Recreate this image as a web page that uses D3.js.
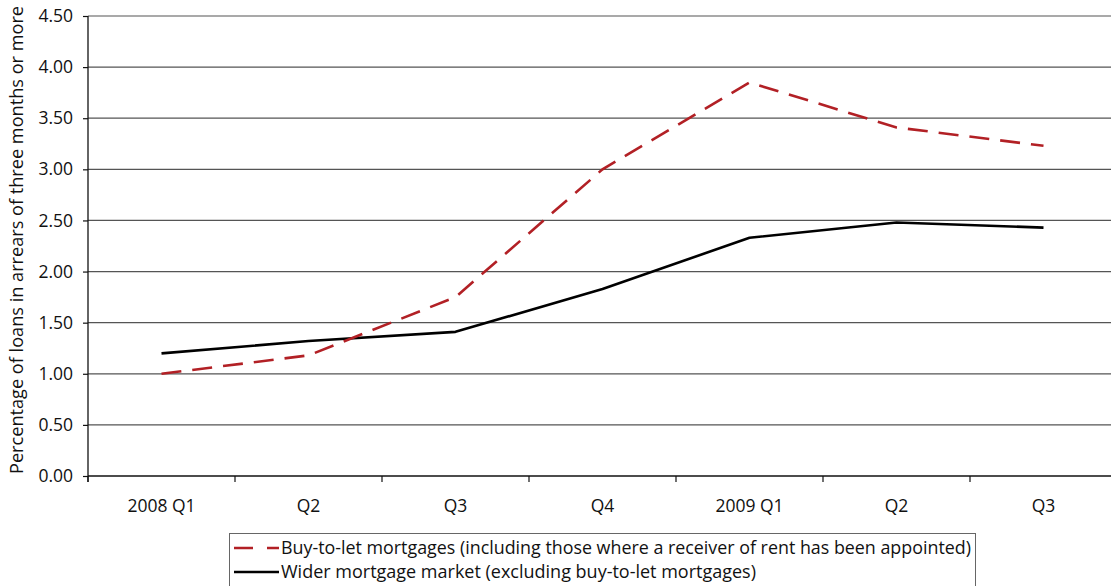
<!DOCTYPE html>
<html>
<head>
<meta charset="utf-8">
<script src="https://cdn.jsdelivr.net/npm/d3@7/dist/d3.min.js"></script>
<style>
  html, body { margin: 0; padding: 0; background: #fff; }
  svg { display: block; }
  text { font-family: "Open Sans", "DejaVu Sans", sans-serif; fill: #111; }
</style>
</head>
<body>
<svg id="chart" width="1112" height="586"></svg>
<script>
// Quarterly categories
const quarters = ["2008 Q1", "Q2", "Q3", "Q4", "2009 Q1", "Q2 ", "Q3 "];
const quarterLabels = ["2008 Q1", "Q2", "Q3", "Q4", "2009 Q1", "Q2", "Q3"];

// Percentage of loans in arrears of three months or more
const buyToLet = [1.00, 1.18, 1.75, 3.00, 3.85, 3.41, 3.23];
const widerMarket = [1.20, 1.32, 1.41, 1.83, 2.33, 2.48, 2.43];

const yTicks = [0, 0.5, 1, 1.5, 2, 2.5, 3, 3.5, 4, 4.5];

const seriesNames = [
  "Buy-to-let mortgages (including those where a receiver of rent has been appointed)",
  "Wider mortgage market (excluding buy-to-let mortgages)"
];

const svg = d3.select("#chart");
const plotLeft = 88, plotTop = 16, plotBottom = 476, gridRight = 1111;

const x = d3.scaleBand().domain(quarters).range([plotLeft, 1117]);
const y = d3.scaleLinear().domain([0, 4.5]).range([plotBottom, plotTop]);

// Horizontal gridlines
svg.append("g")
  .selectAll("line")
  .data(yTicks.filter(d => d > 0))
  .join("line")
  .attr("x1", plotLeft).attr("x2", gridRight)
  .attr("y1", d => y(d)).attr("y2", d => y(d))
  .attr("stroke", "#555").attr("stroke-width", 1.2);

// Y axis
const yAxis = svg.append("g")
  .attr("transform", `translate(${plotLeft},0)`)
  .call(d3.axisLeft(y).tickValues(yTicks).tickFormat(d3.format(".2f")).tickSize(5).tickPadding(10));
yAxis.select(".domain").attr("stroke", "#111").attr("stroke-width", 1.3)
  .attr("d", `M0,${plotTop}V${plotBottom + 6}`);
yAxis.selectAll(".tick line").attr("stroke", "#111").attr("stroke-width", 1.2);
yAxis.selectAll(".tick text").style("font-size", "17.5px").attr("fill", "#111")
  .style("font-family", '"Open Sans", sans-serif');

// X axis with ticks at category boundaries
const xg = svg.append("g");
xg.append("line")
  .attr("x1", plotLeft).attr("x2", gridRight)
  .attr("y1", plotBottom).attr("y2", plotBottom)
  .attr("stroke", "#111").attr("stroke-width", 1.3);
xg.selectAll("line.b")
  .data(quarters)
  .join("line")
  .attr("class", "b")
  .attr("x1", d => x(d)).attr("x2", d => x(d))
  .attr("y1", plotBottom).attr("y2", plotBottom + 6)
  .attr("stroke", "#111").attr("stroke-width", 1.2);
xg.selectAll("text")
  .data(quarters)
  .join("text")
  .attr("x", d => x(d) + x.bandwidth() / 2)
  .attr("y", plotBottom + 36)
  .attr("text-anchor", "middle")
  .style("font-size", "17.5px")
  .text((d, i) => quarterLabels[i]);

// Y axis title
svg.append("text")
  .attr("transform", `translate(23,${(plotTop + plotBottom) / 2 - 6}) rotate(-90)`)
  .attr("text-anchor", "middle")
  .style("font-size", "18px")
  .attr("textLength", 468)
  .attr("lengthAdjust", "spacingAndGlyphs")
  .text("Percentage of loans in arrears of three months or more");

// Series lines
const line = d3.line()
  .x((d, i) => x(quarters[i]) + x.bandwidth() / 2)
  .y(d => y(d));

svg.append("path")
  .datum(widerMarket)
  .attr("d", line)
  .attr("fill", "none")
  .attr("stroke", "#000")
  .attr("stroke-width", 2.6)
  .attr("stroke-linejoin", "round");

svg.append("path")
  .datum(buyToLet)
  .attr("d", line)
  .attr("fill", "none")
  .attr("stroke", "#b22025")
  .attr("stroke-width", 2.6)
  .attr("stroke-dasharray", "20,11");

// Legend
const lg = svg.append("g");
lg.append("rect")
  .attr("x", 229.5).attr("y", 533.5)
  .attr("width", 746).attr("height", 60)
  .attr("fill", "#fff").attr("stroke", "#666").attr("stroke-width", 1);

const legendItems = [
  { name: seriesNames[0], color: "#b22025", dash: "19,14", yPos: 548, width: 690 },
  { name: seriesNames[1], color: "#000", dash: null, yPos: 572, width: 475 }
];
legendItems.forEach(it => {
  lg.append("line")
    .attr("x1", 234).attr("x2", 279)
    .attr("y1", it.yPos).attr("y2", it.yPos)
    .attr("stroke", it.color).attr("stroke-width", 2.6)
    .attr("stroke-dasharray", it.dash);
  lg.append("text")
    .attr("x", 281).attr("y", it.yPos + 6)
    .style("font-size", "17.5px")
    .attr("textLength", it.width)
    .attr("lengthAdjust", "spacingAndGlyphs")
    .text(it.name);
});
</script>
</body>
</html>
